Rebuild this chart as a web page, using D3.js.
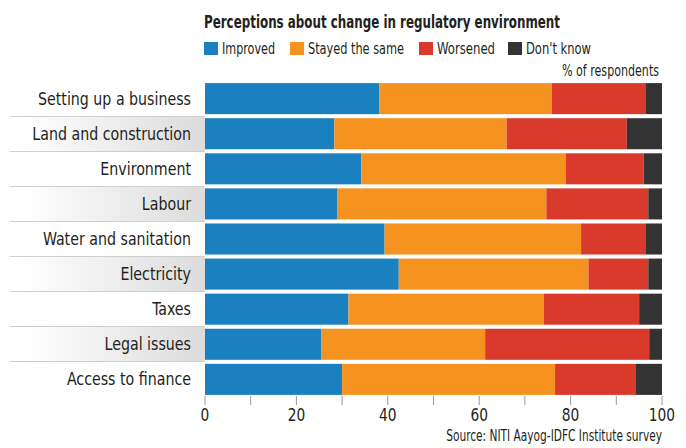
<!DOCTYPE html>
<meta charset="utf-8">
<style>
body { margin: 0; background: #fff; }
svg text { font-family: "DejaVu Sans Condensed", "Liberation Sans", sans-serif; fill: #231f20; }
</style>
<body>
<script src="https://cdn.jsdelivr.net/npm/d3@7"></script>
<script>
var categories = ["Setting up a business", "Land and construction", "Environment", "Labour",
  "Water and sanitation", "Electricity", "Taxes", "Legal issues", "Access to finance"];
var seriesNames = ["Improved", "Stayed the same", "Worsened", "Don't know"];
var improved = [38.1, 28.3, 34.2, 28.9, 39.3, 42.4, 31.4, 25.5, 30.0];
var stayed   = [37.8, 37.7, 44.7, 45.8, 43.0, 41.5, 42.7, 35.8, 46.6];
var worsened = [20.6, 26.3, 17.1, 22.3, 14.2, 13.1, 20.9, 35.9, 17.7];
var dontKnow = [3.5, 7.7, 4.0, 3.0, 3.5, 3.0, 5.0, 2.8, 5.7];
var ticks = [0, 10, 20, 30, 40, 50, 60, 70, 80, 90, 100];
var tickLabels = [0, 20, 40, 60, 80, 100];
var colors = ["#1a80bf", "#f6921f", "#d93a2b", "#333333"];

var width = 686, height = 448;
var svg = d3.select("body").append("svg")
  .attr("width", width).attr("height", height);

// squeeze text sideways to mimic the narrow newspaper face
function squeeze(sel, k) {
  sel.each(function() {
    var w = this.getComputedTextLength();
    d3.select(this).attr("textLength", w * k).attr("lengthAdjust", "spacingAndGlyphs");
  });
}
function fit(sel, w) {
  sel.attr("textLength", w).attr("lengthAdjust", "spacingAndGlyphs");
}

var x = d3.scaleLinear().domain([0, 100]).range([205, 662]);
var y = d3.scaleBand().domain(categories).range([81, 397]).paddingInner(0.115).paddingOuter(0.06);
var row = d3.scaleBand().domain(categories).range([81, 396]);

var rows = categories.map(function(c, i) {
  return {cat: c, vals: [improved[i], stayed[i], worsened[i], dontKnow[i]]};
});
var stack = d3.stack().keys([0, 1, 2, 3]).value(function(d, k) { return d.vals[k]; });
var layers = stack(rows);

// label band shading
var defs = svg.append("defs");
var grad = defs.append("linearGradient").attr("id", "fade")
  .attr("x1", "0%").attr("x2", "100%");
grad.append("stop").attr("offset", "0%").attr("stop-color", "#ffffff");
grad.append("stop").attr("offset", "100%").attr("stop-color", "#dcdcdc");

svg.selectAll("rect.band").data(categories.filter(function(c, i) { return i % 2 == 1; }))
  .enter().append("rect").attr("class", "band")
  .attr("x", 20).attr("width", x(0) - 20)
  .attr("y", function(d) { return row(d); })
  .attr("height", row.bandwidth())
  .attr("fill", "url(#fade)");

svg.selectAll("line.sep").data(categories.slice(1))
  .enter().append("line").attr("class", "sep")
  .attr("x1", 10).attr("x2", x(0))
  .attr("y1", function(d) { return row(d) + 0.5; })
  .attr("y2", function(d) { return row(d) + 0.5; })
  .attr("stroke", "#cfcfcf").attr("stroke-width", 1);

// bars
svg.selectAll("g.layer").data(layers).enter().append("g")
  .attr("class", "layer")
  .attr("fill", function(d, i) { return colors[i]; })
  .selectAll("rect").data(function(d) { return d; })
  .enter().append("rect")
  .attr("x", function(d) { return x(d[0]); })
  .attr("width", function(d) { return x(d[1]) - x(d[0]); })
  .attr("y", function(d) { return y(d.data.cat); })
  .attr("height", y.bandwidth());

// category labels
var catText = svg.selectAll("text.cat").data(categories).enter().append("text")
  .attr("class", "cat")
  .attr("x", 191)
  .attr("y", function(d) { return y(d) + y.bandwidth() / 2 + 6; })
  .attr("text-anchor", "end")
  .style("font-size", "18px")
  .text(function(d) { return d; });
var k = 153 / catText.node().getComputedTextLength();
squeeze(catText, k);

// x axis
var axis = svg.append("g").attr("transform", "translate(0,396)");
axis.selectAll("line").data(ticks).enter().append("line")
  .attr("x1", function(d) { return x(d); }).attr("x2", function(d) { return x(d); })
  .attr("y1", 0).attr("y2", 9)
  .attr("stroke", "#999").attr("stroke-width", 1);
var tickText = axis.selectAll("text").data(tickLabels).enter().append("text")
  .attr("x", function(d) { return x(d); })
  .attr("y", 25)
  .attr("text-anchor", "middle")
  .style("font-size", "17px")
  .text(function(d) { return d; });
squeeze(tickText, 0.9);

// title
svg.append("text")
  .attr("x", 204).attr("y", 28)
  .style("font-size", "17px").style("font-weight", "bold")
  .text("Perceptions about change in regulatory environment")
  .call(fit, 356);

// legend
var legendX = [204, 290, 419, 508];
var legendW = [53, 96, 58, 65];
var leg = svg.selectAll("g.leg").data(seriesNames).enter().append("g")
  .attr("class", "leg")
  .attr("transform", function(d, i) { return "translate(" + legendX[i] + ",42)"; });
leg.append("rect").attr("width", 14).attr("height", 13)
  .attr("fill", function(d, i) { return colors[i]; });
leg.append("text").attr("x", 18).attr("y", 12)
  .style("font-size", "16px")
  .text(function(d) { return d; })
  .each(function(d, i) { d3.select(this).call(fit, legendW[i]); });

svg.append("text")
  .attr("x", 659).attr("y", 76)
  .attr("text-anchor", "end")
  .style("font-size", "15px")
  .text("% of respondents")
  .call(fit, 97);

// source line, narrowed with a group transform
var src = svg.append("g").attr("transform", "translate(662,441)");
var srcText = src.append("text")
  .attr("text-anchor", "end")
  .style("font-size", "15px")
  .text("Source: NITI Aayog-IDFC Institute survey");
var sx = 216 / srcText.node().getComputedTextLength();
src.attr("transform", "translate(662,441) scale(" + sx + ",1)");
</script>
</body>
